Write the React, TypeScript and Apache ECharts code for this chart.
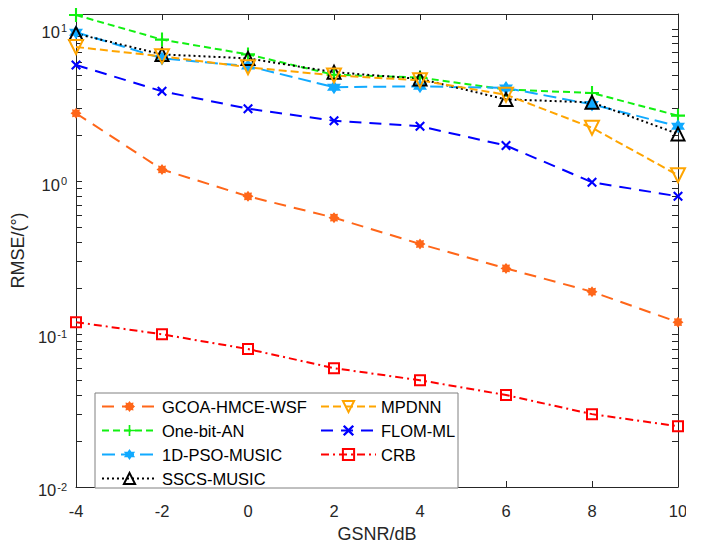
import React, { useEffect, useRef } from 'react';
import * as echarts from 'echarts';

const gsnr = [-4, -2, 0, 2, 4, 6, 8, 10];
const gcoaHmceWsf = [2.8, 1.2, 0.8, 0.58, 0.39, 0.27, 0.19, 0.12];
const oneBitAN = [12.3, 8.5, 6.8, 5.0, 4.8, 4.0, 3.8, 2.7];
const pso1dMusic = [9.5, 6.4, 5.7, 4.15, 4.2, 4.1, 3.2, 2.3];
const sscsMusic = [9.3, 6.8, 6.4, 5.2, 4.7, 3.45, 3.3, 2.05];
const mpdnn = [7.6, 6.6, 5.6, 4.95, 4.6, 3.7, 2.25, 1.1];
const flomML = [5.8, 3.9, 3.0, 2.5, 2.3, 1.72, 0.99, 0.8];
const crb = [0.12, 0.1, 0.08, 0.06, 0.05, 0.04, 0.03, 0.025];

const xTicks = [-4, -2, 0, 2, 4, 6, 8, 10];
const yDecades = [-2, -1, 0, 1];
const yMinValue = 0.01;
const yMaxValue = 12.5;

const FONT = '"Liberation Sans", Arial, Helvetica, sans-serif';
const AXIS = '#262626';
const FS = 16.5;
const FS_NAME = 18;

const SYM_STAR8 =
  'path://M10,0 L6.47,2.68 L7.07,7.07 L2.68,6.47 L0,10 L-2.68,6.47 L-7.07,7.07 L-6.47,2.68 L-10,0 L-6.47,-2.68 L-7.07,-7.07 L-2.68,-6.47 L0,-10 L2.68,-6.47 L7.07,-7.07 L6.47,-2.68 Z';
const SYM_PLUS =
  'path://M-1.5,-10 L1.5,-10 L1.5,-1.5 L10,-1.5 L10,1.5 L1.5,1.5 L1.5,10 L-1.5,10 L-1.5,1.5 L-10,1.5 L-10,-1.5 L-1.5,-1.5 Z';
const SYM_HEX =
  'path://M0,-10 L2.89,-5 L8.66,-5 L5.77,0 L8.66,5 L2.89,5 L0,10 L-2.89,5 L-8.66,5 L-5.77,0 L-8.66,-5 L-2.89,-5 Z';
const SYM_X =
  'path://M-10,-7 L-7,-10 L0,-3 L7,-10 L10,-7 L3,0 L10,7 L7,10 L0,3 L-7,10 L-10,7 L-3,0 Z';
const SYM_TRI_DOWN = 'path://M-10,-8.66 L10,-8.66 L0,8.66 Z';

type Spec = {
  name: string;
  data: number[];
  color: string;
  dash: number[];
  symbol: string;
  size: number;
  hollow: boolean;
};

const specs: Spec[] = [
  { name: 'GCOA-HMCE-WSF', data: gcoaHmceWsf, color: '#ff6619', dash: [12, 8], symbol: SYM_STAR8, size: 11, hollow: false },
  { name: 'One-bit-AN', data: oneBitAN, color: '#11f011', dash: [7, 4], symbol: SYM_PLUS, size: 14, hollow: false },
  { name: '1D-PSO-MUSIC', data: pso1dMusic, color: '#11aaff', dash: [13, 6], symbol: SYM_HEX, size: 14, hollow: false },
  { name: 'SSCS-MUSIC', data: sscsMusic, color: '#000000', dash: [2, 3], symbol: 'triangle', size: 13, hollow: true },
  { name: 'MPDNN', data: mpdnn, color: '#ffa500', dash: [8, 4], symbol: SYM_TRI_DOWN, size: 14, hollow: true },
  { name: 'FLOM-ML', data: flomML, color: '#0000ff', dash: [12, 8], symbol: SYM_X, size: 10, hollow: false },
  { name: 'CRB', data: crb, color: '#ff0000', dash: [8, 4, 2, 4], symbol: 'rect', size: 10, hollow: true },
];

function buildOption() {
  const yMin = Math.log10(yMinValue);
  const yMax = Math.log10(yMaxValue);
  const tickVals: number[] = [];
  for (const d of yDecades) {
    for (let k = 1; k <= 9; k++) {
      const v = Math.log10(k * Math.pow(10, d));
      if (v >= yMin - 1e-9 && v <= yMax + 1e-9) tickVals.push(v);
    }
  }
  const yLabel = (v: number) => {
    const r = Math.round(v);
    if (Math.abs(v - r) > 1e-6) return '';
    return `{b|10}{s|${r}}`;
  };

  const series = specs.map((s) => ({
    type: 'line',
    name: s.name,
    data: gsnr.map((x, i) => [x, Math.log10(s.data[i])]),
    xAxisIndex: 0,
    yAxisIndex: 0,
    symbol: s.symbol,
    symbolSize: s.size,
    showAllSymbol: true,
    lineStyle: { color: s.color, width: 2, type: s.dash },
    itemStyle: s.hollow
      ? { color: 'rgba(255,255,255,0)', borderColor: s.color, borderWidth: 2 }
      : { color: s.color, borderWidth: 0 },
    emphasis: { disabled: true },
    z: 2,
  }));

  const commonLegend = {
    orient: 'vertical',
    itemWidth: 55,
    itemHeight: 14,
    itemGap: 7,
    padding: 0,
    textStyle: { fontSize: FS, color: '#000', fontFamily: FONT },
    selectedMode: false,
    z: 10,
  };

  return {
    animation: false,
    backgroundColor: '#ffffff',
    textStyle: { fontFamily: FONT },
    grid: { left: 76, top: 14, right: 26, bottom: 57, containLabel: false },
    xAxis: [
      {
        type: 'value',
        min: -4,
        max: 10,
        interval: 2,
        position: 'bottom',
        name: 'GSNR/dB',
        nameLocation: 'middle',
        nameGap: 38,
        nameTextStyle: { fontSize: FS_NAME, color: AXIS, fontFamily: FONT },
        axisLine: { show: true, onZero: false, lineStyle: { color: AXIS, width: 1 } },
        axisTick: { show: true, inside: true, length: 6, lineStyle: { color: AXIS } },
        axisLabel: { fontSize: FS, color: AXIS, margin: 15, fontFamily: FONT, customValues: xTicks },
        splitLine: { show: false },
      },
      {
        type: 'value',
        min: -4,
        max: 10,
        interval: 2,
        position: 'top',
        axisLine: { show: true, onZero: false, lineStyle: { color: AXIS, width: 1 } },
        axisTick: { show: true, inside: true, length: 6, lineStyle: { color: AXIS } },
        axisLabel: { show: false },
        splitLine: { show: false },
      },
    ],
    yAxis: [
      {
        type: 'value',
        min: yMin,
        max: yMax,
        interval: 1,
        position: 'left',
        name: 'RMSE/(°)',
        nameLocation: 'middle',
        nameGap: 33,
        nameTextStyle: { fontSize: FS_NAME, color: AXIS, fontFamily: FONT },
        axisLine: { show: true, onZero: false, lineStyle: { color: AXIS, width: 1 } },
        axisTick: { show: true, inside: true, length: 6, lineStyle: { color: AXIS }, customValues: tickVals },
        axisLabel: {
          customValues: yDecades,
          formatter: yLabel,
          margin: 9,
          color: AXIS,
          rich: {
            b: { fontSize: FS, color: AXIS, fontFamily: FONT, lineHeight: 18, padding: [6, 0, 0, 0] },
            s: { fontSize: 11, color: AXIS, fontFamily: FONT, lineHeight: 12, verticalAlign: 'top', padding: [3, 0, 0, 1] },
          },
        },
        splitLine: { show: false },
      },
      {
        type: 'value',
        min: yMin,
        max: yMax,
        interval: 1,
        position: 'right',
        axisLine: { show: true, onZero: false, lineStyle: { color: AXIS, width: 1 } },
        axisTick: { show: true, inside: true, length: 6, lineStyle: { color: AXIS }, customValues: tickVals },
        axisLabel: { show: false },
        splitLine: { show: false },
      },
    ],
    legend: [
      { ...commonLegend, left: 101, top: 398, data: specs.slice(0, 4).map((s) => s.name) },
      { ...commonLegend, left: 320, top: 398, data: specs.slice(4).map((s) => s.name) },
    ],
    graphic: [
      {
        type: 'rect',
        shape: { x: 95, y: 393, width: 363, height: 95 },
        style: { fill: '#ffffff', stroke: '#808080', lineWidth: 1 },
        z: 5,
        silent: true,
      },
      {
        type: 'rect',
        shape: { x: 686, y: 495, width: 18, height: 30 },
        style: { fill: '#ffffff' },
        z: 100,
        silent: true,
      },
    ],
    series,
  };
}

export default function App() {
  const ref = useRef<HTMLDivElement>(null);
  useEffect(() => {
    if (!ref.current) return;
    const chart = echarts.init(ref.current, undefined, { renderer: 'svg' });
    chart.setOption(buildOption() as any);
    return () => chart.dispose();
  }, []);
  return (
    <div
      ref={ref}
      style={{ position: 'fixed', left: 0, top: 0, width: 704, height: 548, background: '#fff' }}
    />
  );
}
